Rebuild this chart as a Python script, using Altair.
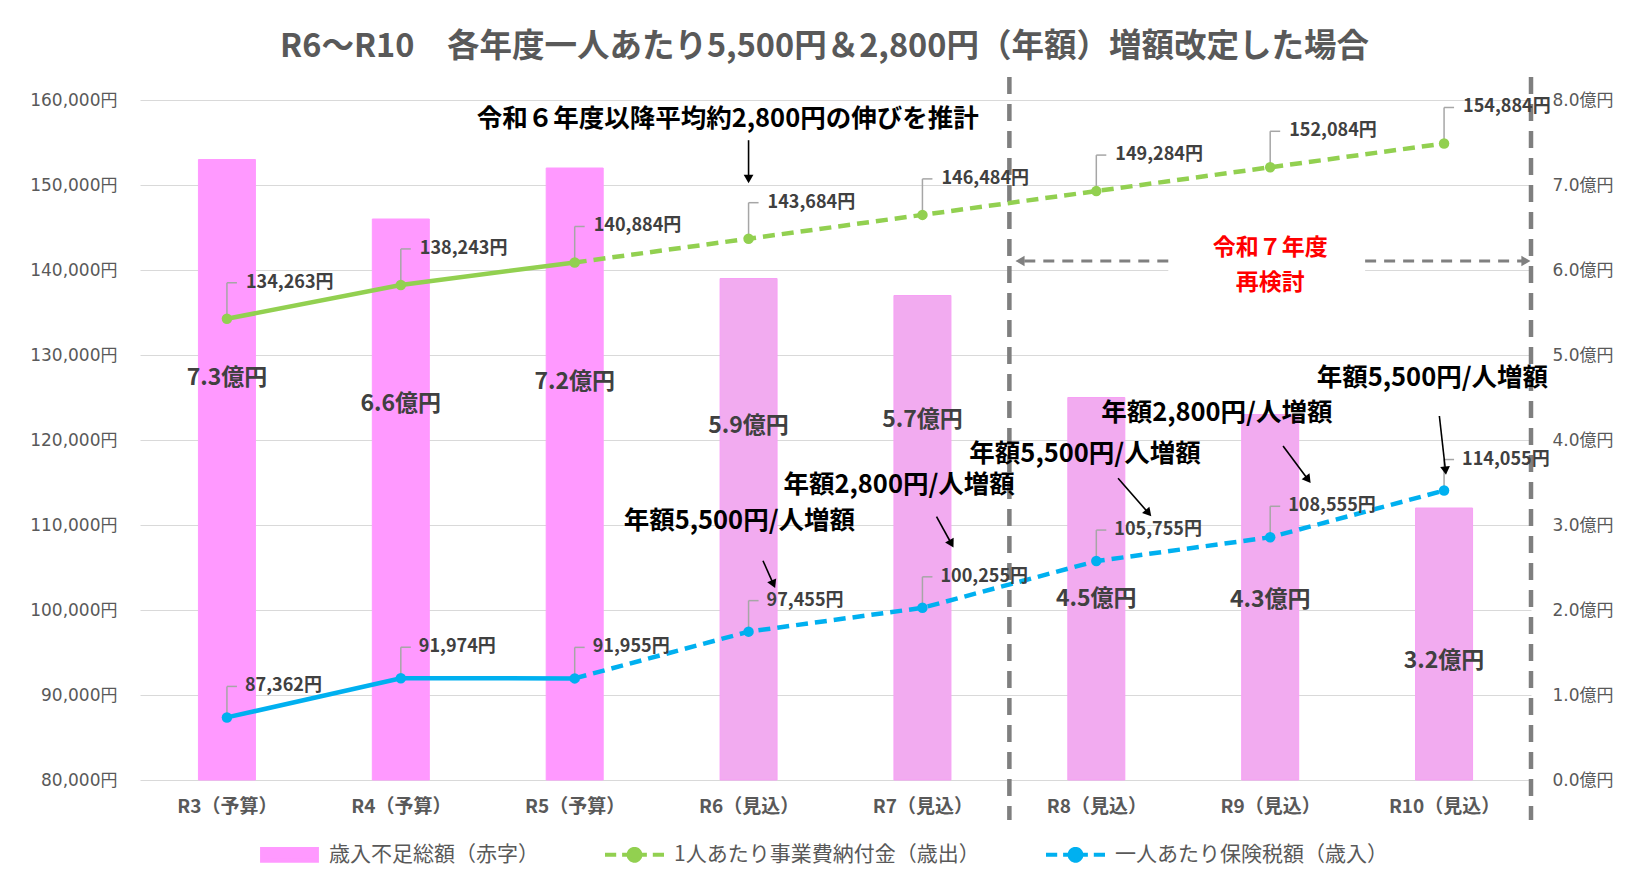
import json
import math
import altair as alt
import pandas as pd

FONT = "Noto Sans CJK JP"
AXFONT = "DejaVu Sans, Noto Sans CJK JP"

# ---------------- data ----------------
categories = ["R3（予算）", "R4（予算）", "R5（予算）", "R6（見込）",
              "R7（見込）", "R8（見込）", "R9（見込）", "R10（見込）"]
deficit_oku = [7.3, 6.6, 7.2, 5.9, 5.7, 4.5, 4.3, 3.2]          # 億円 (right axis)
payment_yen = [134263, 138243, 140884, 143684, 146484, 149284, 152084, 154884]
tax_yen = [87362, 91974, 91955, 97455, 100255, 105755, 108555, 114055]
bar_label_pos = [4.73, 4.42, 4.68, 4.17, 4.23, 2.13, 2.12, 1.40]  # 億円 units

series_names = ["歳入不足総額（赤字）", "1人あたり事業費納付金（歳出）", "一人あたり保険税額（歳入）"]
series_colors = ["#ff99ff", "#92d050", "#00b0f0"]
projected_fill = "#f2abf0"
projected_stroke = "#f7a0f5"
first_projected = 3
dash_from = 2

title_text = "R6〜R10　各年度一人あたり5,500円＆2,800円（年額）増額改定した場合"

ann_texts = ["令和６年度以降平均約2,800円の伸びを推計", "年額5,500円/人増額", "年額2,800円/人増額",
             "年額5,500円/人増額", "年額2,800円/人増額", "年額5,500円/人増額"]
ann_x = [2.88, 2.947, 3.866, 4.935, 5.693, 6.933]
ann_y = [157718, 110447, 114718, 118388, 123212, 127329]
arrow_x1 = [3.0, 3.083, 4.081, 5.125, 6.074, 6.973]
arrow_y1 = [155271, 105800, 110976, 115494, 119294, 122824]
arrow_x2 = [3.0, 3.149, 4.174, 5.310, 6.227, 7.010]
arrow_y2 = [150400, 102753, 107529, 111176, 115094, 116094]

review_texts = ["令和７年度", "再検討"]
review_x = [6.0, 6.0]
review_y = [142553, 138435]
divider_x = [4.5, 7.5]
divider_top, divider_bottom = 162700, 75300
span_from_x = [5.414, 6.546]
span_tip_x = [4.570, 7.462]
span_y = 141059
mask_x = [5.414, 6.546]
mask_y = [136000, 145500]

# ---------------- layout ----------------
W, H = 1391, 680
X_DOM = [-0.5, 7.5]
Y_DOM = [80000, 160000]
R_DOM = [0, 8]
PX_X = W / (X_DOM[1] - X_DOM[0])
PX_Y = H / (Y_DOM[1] - Y_DOM[0])

xscale = alt.Scale(domain=X_DOM, nice=False, zero=False, padding=0)
yscale = alt.Scale(domain=Y_DOM, nice=False, zero=False, padding=0)
rscale = alt.Scale(domain=R_DOM, nice=False, zero=False, padding=0)
cscale = alt.Scale(domain=series_names, range=series_colors)

n0, n1, _ = series_names
t0 = f"datum.value === '{n0}'"
t1 = f"datum.value === '{n1}'"
rect_path = "M-0.93,-0.2L0.93,-0.2L0.93,0.2L-0.93,0.2Z"
line_path = ("M-1,0L-0.62,0M-0.42,0L0.42,0M0.62,0L1,0"
             "M-0.2,0A0.2,0.2,0,1,1,0.2,0A0.2,0.2,0,1,1,-0.2,0Z")
color_expr = (f"{t0} ? '{series_colors[0]}' : ({t1} ? '{series_colors[1]}' : "
              f"'{series_colors[2]}')")
legend = alt.Legend(
    title=None, orient="none", legendX=118, legendY=723, direction="horizontal",
    symbolSize=3481, symbolStrokeWidth=4, labelFont=FONT, labelFontSize=21,
    labelColor="#595959", labelOffset=8, columnPadding=58, labelLimit=600,
    symbolType=alt.ExprRef(expr=f"{t0} ? '{rect_path}' : '{line_path}'"),
    symbolFillColor=alt.ExprRef(expr=color_expr),
    symbolStrokeColor=alt.ExprRef(expr=color_expr),
    symbolDash=[1, 0], symbolOpacity=1,
)
color_enc = alt.Color("series:N", scale=cscale, legend=legend)

x_axis = alt.Axis(values=list(range(len(categories))),
                  labelExpr=json.dumps(categories, ensure_ascii=False) + "[datum.value]",
                  grid=False, ticks=False, domain=False, title=None,
                  labelFont=FONT, labelFontSize=19, labelFontWeight="bold",
                  labelColor="#595959", labelPadding=17)
l_axis = alt.Axis(values=list(range(80000, 160001, 10000)),
                  labelExpr="format(datum.value, ',') + '円'",
                  grid=True, gridColor="#d9d9d9", gridWidth=1, ticks=False, domain=False,
                  title=None, labelFont=AXFONT, labelFontSize=17, labelColor="#595959",
                  labelPadding=23)
r_axis = alt.Axis(orient="right", values=list(range(0, 9)),
                  labelExpr="format(datum.value, '.1f') + '億円'",
                  grid=False, ticks=False, domain=False, title=None,
                  labelFont=AXFONT, labelFontSize=17, labelColor="#595959", labelPadding=21)


def X(field="i"):
    return alt.X(f"{field}:Q", scale=xscale, axis=x_axis)


def Y(field):
    return alt.Y(f"{field}:Q", scale=yscale, axis=l_axis)


def R(field):
    return alt.Y(f"{field}:Q", scale=rscale, axis=r_axis)


# ---------------- bars (right axis) ----------------
bar_df = pd.DataFrame({
    "i": list(range(len(categories))),
    "oku": deficit_oku,
    "lab": [f"{v:.1f}億円" for v in deficit_oku],
    "lab_y": bar_label_pos,
    "series": series_names[0],
})
bars = alt.Chart(bar_df).mark_bar(size=57).encode(
    x=X("i"),
    y=R("oku"),
    y2=alt.datum(0),
    color=alt.condition(alt.datum.i >= first_projected, alt.value(projected_fill), color_enc),
    stroke=alt.condition(alt.datum.i >= first_projected, alt.value(projected_stroke),
                         alt.value(series_colors[0])),
)
bar_text = alt.Chart(bar_df).mark_text(font=FONT, fontSize=23, fontWeight="bold",
                                       color="#404040").encode(
    x=X("i"), y=R("lab_y"), text="lab:N")
bar_group = alt.layer(bars, bar_text)

# ---------------- lines (left axis) ----------------
mask_df = pd.DataFrame({"x1": [mask_x[0]], "x2": [mask_x[1]], "y1": [mask_y[0]], "y2": [mask_y[1]]})
mask = alt.Chart(mask_df).mark_rect(color="white").encode(
    x=X("x1"), x2="x2:Q", y=Y("y1"), y2="y2:Q")

div_df = pd.DataFrame({"x": divider_x, "y1": divider_top, "y2": divider_bottom})
dividers = alt.Chart(div_df).mark_rule(color="#7f7f7f", strokeWidth=4.5,
                                       strokeDash=[17, 10]).encode(
    x=X("x"), y=Y("y1"), y2="y2:Q")

span_df = pd.DataFrame({"x1": span_from_x, "x2": span_tip_x, "y": span_y,
                        "ang": [270, 90]})
span_rules = alt.Chart(span_df).mark_rule(color="#808080", strokeWidth=3,
                                          strokeDash=[11, 8]).encode(
    x=X("x1"), x2="x2:Q", y=Y("y"))
span_heads = alt.Chart(span_df).mark_point(shape="triangle", filled=True, opacity=1,
                                           size=110, color="#808080").encode(
    x=X("x2"), y=Y("y"), angle=alt.Angle("ang:Q", scale=None))

review_df = pd.DataFrame({"x": review_x, "y": review_y, "t": review_texts})
review = alt.Chart(review_df).mark_text(font=FONT, fontSize=23, fontWeight="bold",
                                        color="#ff0000").encode(
    x=X("x"), y=Y("y"), text="t:N")


def series_layers(vals, name, dx, dy):
    df = pd.DataFrame({"i": list(range(len(vals))), "v": vals,
                       "lab": [f"{v:,}円" for v in vals], "series": name})
    base = alt.Chart(df)
    enc = dict(x=X("i"), y=Y("v"))
    solid = base.transform_filter(alt.datum.i <= dash_from).mark_line(strokeWidth=4.5).encode(
        color=color_enc, **enc)
    dashed = base.transform_filter(alt.datum.i >= dash_from).mark_line(
        strokeWidth=4.5, strokeDash=[12, 7]).encode(color=color_enc, **enc)
    lead_v = base.mark_rule(color="#a6a6a6", strokeWidth=1.5, y2Offset=dy).encode(
        x=X("i"), y=Y("v"), y2="v:Q")
    lead_h = base.mark_rule(color="#a6a6a6", strokeWidth=1.5, yOffset=dy, y2Offset=dy,
                            x2Offset=10).encode(x=X("i"), x2="i:Q", y=Y("v"), y2="v:Q")
    pts = base.mark_circle(size=110, opacity=1).encode(color=color_enc, **enc)
    labs = base.mark_text(font=FONT, fontSize=18, fontWeight="bold", color="#404040",
                          align="left", baseline="middle", dx=dx, dy=dy).encode(
        text="lab:N", **enc)
    return [solid, dashed, lead_v, lead_h, pts, labs]


green = series_layers(payment_yen, series_names[1], 19, -36)
blue = series_layers(tax_yen, series_names[2], 18, -31)

# annotations with arrows
rows = []
for xa, ya, xb, yb in zip(arrow_x1, arrow_y1, arrow_x2, arrow_y2):
    dxp = (xb - xa) * PX_X
    dyp = -(yb - ya) * PX_Y
    L = math.hypot(dxp, dyp)
    ux, uy = dxp / L, dyp / L
    ang = math.degrees(math.atan2(dxp, -dyp)) % 360
    back = 4
    rows.append({"x1": xa, "y1": ya, "hx": xb - back * ux / PX_X, "hy": yb + back * uy / PX_Y,
                 "ang": ang})
arr_df = pd.DataFrame(rows)
arr_rules = alt.Chart(arr_df).mark_rule(color="black", strokeWidth=1.6).encode(
    x=X("x1"), x2="hx:Q", y=Y("y1"), y2="hy:Q")
arr_heads = alt.Chart(arr_df).mark_point(shape="triangle", filled=True, opacity=1,
                                         size=95, color="black").encode(
    x=X("hx"), y=Y("hy"), angle=alt.Angle("ang:Q", scale=None))
ann_df = pd.DataFrame({"x": ann_x, "y": ann_y, "t": ann_texts})
ann = alt.Chart(ann_df).mark_text(font=FONT, fontSize=25.5, fontWeight="bold",
                                  color="black").encode(x=X("x"), y=Y("y"), text="t:N")

line_group = alt.layer(mask, dividers, span_rules, span_heads, review,
                       *green, *blue, arr_rules, arr_heads, ann)

chart = alt.layer(bar_group, line_group).resolve_scale(y="independent").properties(
    width=W, height=H,
    autosize=alt.AutoSizeParams(type="none"),
    padding={"left": 132, "top": 92, "right": 89, "bottom": 90},
    title=alt.TitleParams(text=title_text, font=FONT, fontSize=32.5, fontWeight="bold",
                          color="#595959", anchor="middle", frame="group", offset=11, dx=-11),
).configure_view(stroke=None)

chart.save("out.html", embed_options={"renderer": "svg", "actions": False})
